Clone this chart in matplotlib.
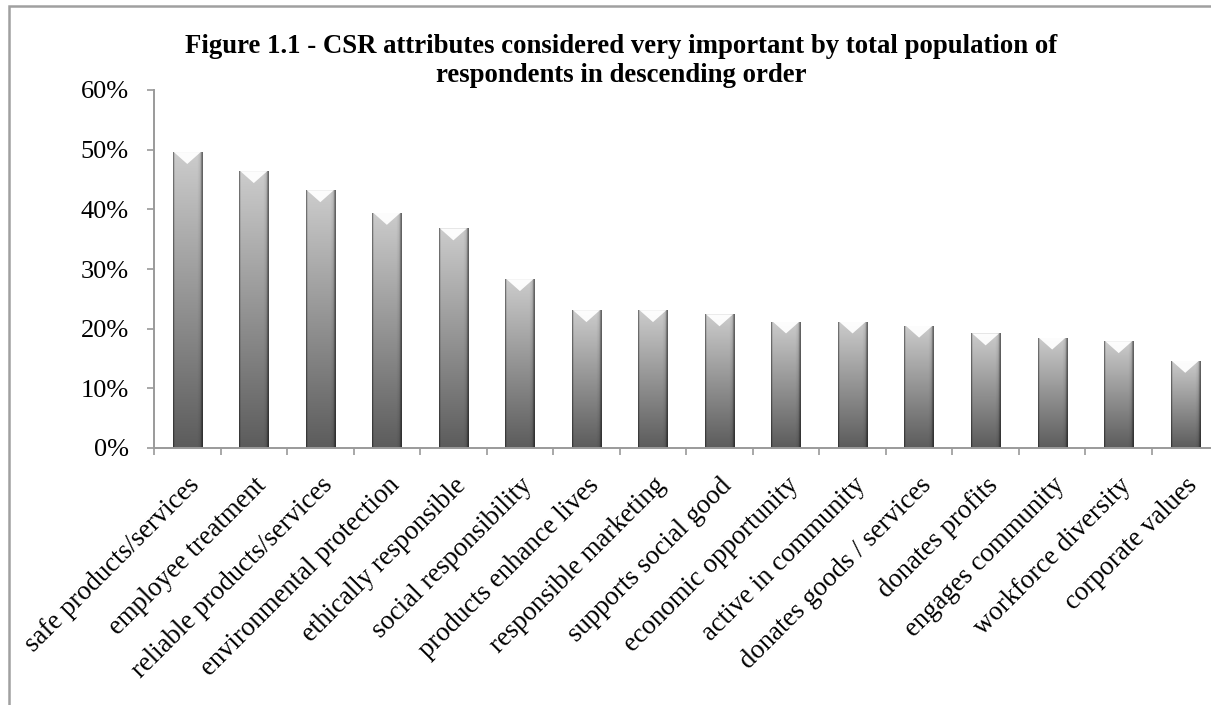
import numpy as np
import matplotlib
matplotlib.use("Agg")
import matplotlib.pyplot as plt
from matplotlib.patches import Polygon, Rectangle
from matplotlib.ticker import FuncFormatter, FixedLocator

categories = [
    "safe products/services", "employee treatment", "reliable products/services",
    "environmental protection", "ethically responsible", "social responsibility",
    "products enhance lives", "responsible marketing", "supports social good",
    "economic opportunity", "active in community", "donates goods / services",
    "donates profits", "engages community", "workforce diversity", "corporate values",
]
values = [49.6, 46.4, 43.2, 39.4, 36.8, 28.3, 23.1, 23.1, 22.4, 21.2, 21.2, 20.5,
          19.2, 18.5, 17.9, 14.6]
yticks = [0, 10, 20, 30, 40, 50, 60]
title = ("Figure 1.1 - CSR attributes considered very important by total population of\n"
         "respondents in descending order")

plt.rcParams['font.family'] = ['Liberation Serif', 'DejaVu Serif']

W, H = 1211, 705
fig = plt.figure(figsize=(W / 100, H / 100), dpi=100)
ax = fig.add_axes([154 / W, (H - 448) / H, 1064.5 / W, 358 / H])

x = np.arange(len(categories))
bars = ax.bar(x, values, width=0.44, color='none', edgecolor='none', zorder=2)

# gradient fill for every bar
ncol = 40
prof = np.ones(ncol)
prof[0] = 0.5
prof[1] = 0.78
prof[2:6] = 1.0
prof[-8:] = np.linspace(1.0, 0.85, 8)
prof[-3] = 0.72
prof[-2] = 0.58
prof[-1] = 0.48
nrow = 200
vert = np.linspace(0.80, 0.36, nrow)
img = np.clip(vert[:, None] * prof[None, :], 0, 1)
rgb = np.dstack([img, img, img])

for p in bars:
    bx, by = p.get_x(), p.get_y()
    bw, bh = p.get_width(), p.get_height()
    im = ax.imshow(rgb, extent=(bx, bx + bw, by, by + bh), origin='upper',
                   aspect='auto', interpolation='bilinear', zorder=2)
    im.set_clip_path(p)
    d = 2.0
    tri = Polygon([(bx + bw * 0.04, by + bh), (bx + bw * 0.96, by + bh),
                   (bx + bw * 0.5, by + bh - d)],
                  closed=True, facecolor='white', edgecolor='none', alpha=0.95, zorder=3)
    ax.add_patch(tri)

ax.set_xlim(-0.5, len(categories) - 0.5)
ax.set_ylim(0, 60)

# axes styling
for s in ['top', 'right']:
    ax.spines[s].set_visible(False)
for s in ['left', 'bottom']:
    ax.spines[s].set_color('#9a9a9a')
    ax.spines[s].set_linewidth(1.4)

ax.yaxis.set_major_locator(FixedLocator(yticks))
ax.yaxis.set_major_formatter(FuncFormatter(lambda v, pos: f"{int(v)}%"))
ax.tick_params(axis='y', which='major', length=5, width=1.2, color='#9a9a9a',
               labelsize=19, pad=13, labelcolor='black')

ax.set_xticks(np.arange(len(categories) + 1) - 0.5)
ax.set_xticklabels([])
ax.tick_params(axis='x', which='major', length=5, width=1.2, color='#9a9a9a')
ax.set_xticks(x, minor=True)
ax.set_xticklabels(categories, minor=True, rotation=45, ha='right',
                   rotation_mode='anchor', fontsize=19.3)
ax.tick_params(axis='x', which='minor', length=0, pad=18)

fig.text(0.513, 1 - 61 / H, title, ha='center', va='center', fontsize=19.3,
         fontweight='bold', linespacing=1.18)

# figure border (partially cropped)
fig.add_artist(Rectangle((9 / W, -0.2), 1.5, 1.2 - 6 / H, transform=fig.transFigure,
                         fill=False, edgecolor='#a0a0a0', linewidth=1.8))

fig.savefig("out.png", dpi=100)
